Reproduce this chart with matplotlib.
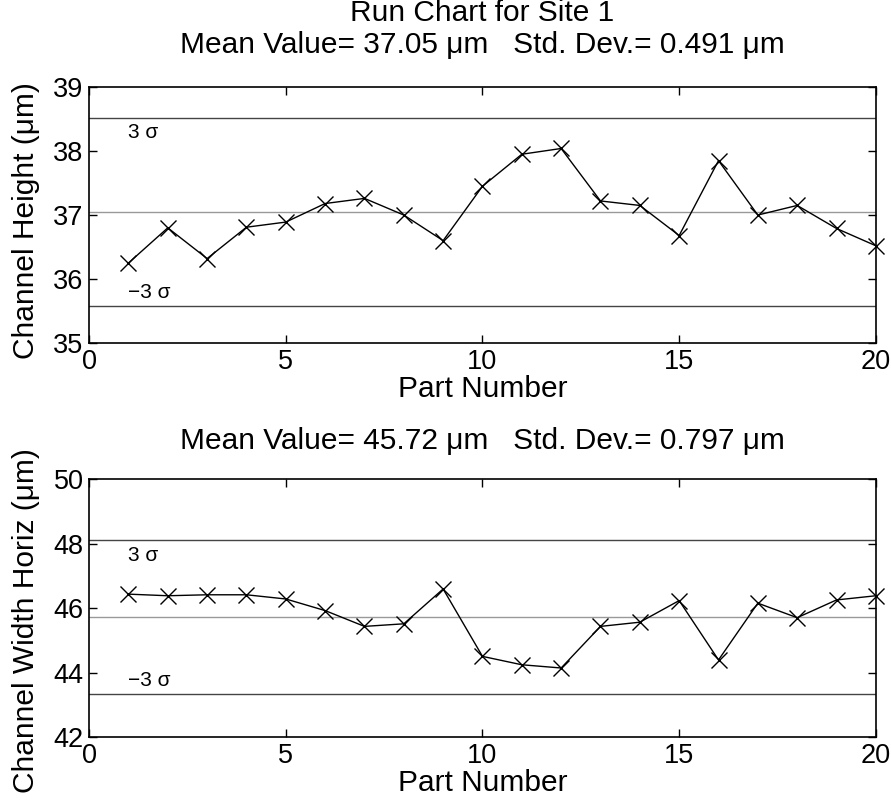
import numpy as np
import matplotlib
matplotlib.use("Agg")
import matplotlib.pyplot as plt

plt.rcParams['font.family'] = ['Liberation Sans', 'DejaVu Sans']

part = np.arange(1, 21)

# Site 1, channel height (um)
height = [36.25, 36.80, 36.32, 36.81, 36.89, 37.18, 37.26, 37.00, 36.60, 37.45,
          37.95, 38.04, 37.22, 37.15, 36.68, 37.85, 37.00, 37.15, 36.79, 36.52]
# Site 1, channel width horiz (um)
width = [46.43, 46.38, 46.41, 46.41, 46.28, 45.92, 45.43, 45.51, 46.59, 44.50,
         44.24, 44.14, 45.43, 45.56, 46.23, 44.39, 46.15, 45.70, 46.25, 46.38]

mean_h, std_h = 37.05, 0.491
mean_w, std_w = 45.72, 0.797

fs_tick = 19.5
fs_lab = 21.5

fig = plt.figure(figsize=(8.91, 8.06), dpi=100)
ax1 = fig.add_axes([0.100, 0.5744, 0.883, 0.3176])
ax2 = fig.add_axes([0.100, 0.0856, 0.883, 0.3201])


def run_chart(ax, y, m, s, ylim, yticks, ylabel, ylab_y):
    ax.plot(part, y, color='black', lw=1.0, marker='x', ms=11, mew=1.0,
            clip_on=False, zorder=3)
    ax.axhline(m, color='#999999', lw=1.0)
    ax.axhline(m + 3 * s, color='#444444', lw=1.0)
    ax.axhline(m - 3 * s, color='#444444', lw=1.0)
    ax.annotate('3 σ', (1, m + 3 * s), xytext=(0, -11), textcoords='offset points',
                ha='left', va='center', fontsize=15)
    ax.annotate('−3 σ', (1, m - 3 * s), xytext=(0, 10), textcoords='offset points',
                ha='left', va='center', fontsize=15)
    ax.set_xlim(0, 20)
    ax.set_ylim(*ylim)
    ax.set_xticks([0, 5, 10, 15, 20])
    ax.set_yticks(yticks)
    ax.tick_params(direction='in', length=6, width=1, top=True, right=True,
                   labelsize=fs_tick)
    ax.tick_params(axis='x', pad=4)
    ax.tick_params(axis='y', pad=4)
    for sp in ax.spines.values():
        sp.set_linewidth(1.2)
    ax.set_xlabel('Part Number', fontsize=fs_lab, va='center')
    ax.xaxis.set_label_coords(0.5, -46 / 257)
    ax.set_ylabel(ylabel, fontsize=fs_lab, va='center')
    ax.yaxis.set_label_coords(-0.080, ylab_y)


run_chart(ax1, height, mean_h, std_h, (35, 39), [35, 36, 37, 38, 39],
          'Channel Height (μm)', 0.48)
run_chart(ax2, width, mean_w, std_w, (42, 50), [42, 44, 46, 48, 50],
          'Channel Width Horiz (μm)', 0.45)

ax1.text(0.5, 1 + 74 / 256, 'Run Chart for Site 1', transform=ax1.transAxes,
         ha='center', va='center', fontsize=fs_lab)
ax1.text(0.5, 1 + 42 / 256, 'Mean Value= %.2f μm   Std. Dev.= %.3f μm' % (mean_h, std_h),
         transform=ax1.transAxes, ha='center', va='center', fontsize=fs_lab)
ax2.text(0.5, 1 + 38 / 258, 'Mean Value= %.2f μm   Std. Dev.= %.3f μm' % (mean_w, std_w),
         transform=ax2.transAxes, ha='center', va='center', fontsize=fs_lab)

fig.savefig('out.png', dpi=100)
